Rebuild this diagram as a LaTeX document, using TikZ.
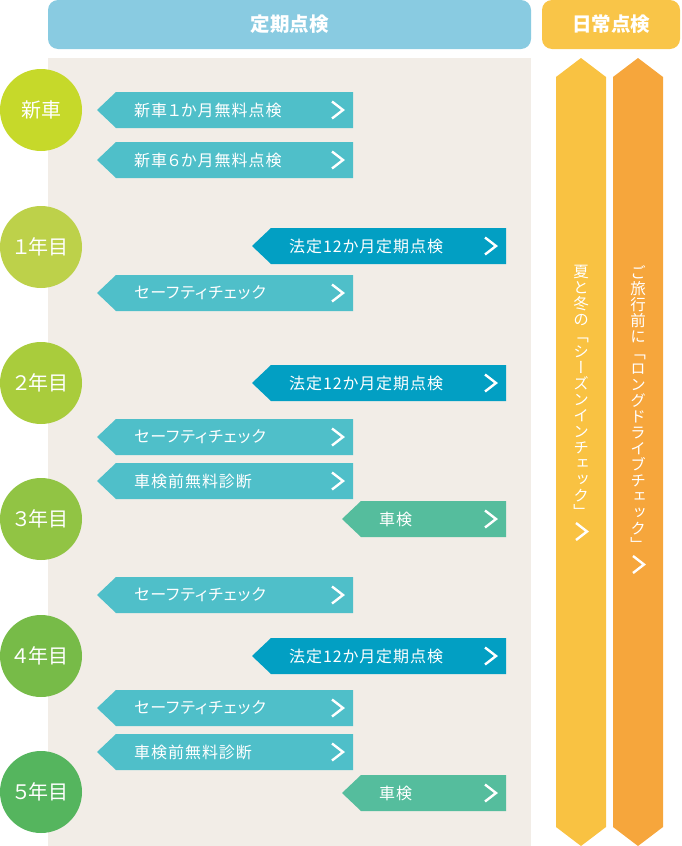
\documentclass[tikz,border=0pt]{standalone}
\usepackage{fontspec}
\setmainfont{Noto Sans CJK JP}
\newfontfamily\jpf[RawFeature=+palt]{Noto Sans CJK JP}
\newfontfamily\vjp[RawFeature=+vert]{Noto Sans CJK JP}
\definecolor{hblue}{HTML}{89CBE1}
\definecolor{hyellow}{HTML}{F9C548}
\definecolor{beige}{HTML}{F2EDE7}
\definecolor{teal}{HTML}{4FBFC9}
\definecolor{dblue}{HTML}{029FC3}
\definecolor{sgreen}{HTML}{55BD9D}
\definecolor{ayellow}{HTML}{F9C242}
\definecolor{aorange}{HTML}{F6A63C}
\definecolor{cA}{HTML}{C6D92A}
\definecolor{cB}{HTML}{BDD14A}
\definecolor{cC}{HTML}{A9CC3C}
\definecolor{cD}{HTML}{91C444}
\definecolor{cE}{HTML}{77BB48}
\definecolor{cF}{HTML}{55B55E}
\newcommand\bnr[6]{%
  \fill[#5] (#2,#4) -- (#2+19,#4-18) -- (#3,#4-18) -- (#3,#4+18) -- (#2+19,#4+18) -- cycle;
  \node[btext] (#1) at (#2+37,#4) {#6};
  \draw[chev] (#3-21,#4-8.5) -- (#3-10,#4) -- (#3-21,#4+8.5);
}
\begin{document}
\begin{tikzpicture}[x=1pt,y=-1pt,
  btext/.style={anchor=west,inner sep=0pt,text=white,font={\jpf\fontsize{16}{18}\selectfont\addfontfeature{LetterSpace=6}}},
  chev/.style={draw=white,line width=2.4pt,miter limit=10},
  yr/.style={circle,minimum size=82pt,inner sep=0pt,text=white,font={\jpf\fontsize{20}{24}\selectfont}},
  head/.style={rounded corners=10pt,inner sep=0pt,text=white,font={\bfseries\fontsize{19.5}{22}\selectfont}},
  vtext/.style={anchor=north,align=center,inner sep=0pt,text=white,font={\vjp\fontsize{15.5}{16}\selectfont}}]
\useasboundingbox (0,0) rectangle (681,846);
% headers
\fill[hblue,rounded corners=10pt] (48,0) rectangle (531,49);
\node[head] (teiki) at (289.5,24.5) {定期点検};
\fill[hyellow,rounded corners=10pt] (542,0) rectangle (680,49);
\node[head] (nichijo) at (611,24.5) {日常点検};
% background
\fill[beige] (48,58) rectangle (531,846);
% arrows right
\fill[ayellow] (556,77) -- (581,58) -- (606,77) -- (606,827) -- (581,846) -- (556,827) -- cycle;
\fill[aorange] (613,77) -- (638,58) -- (663,77) -- (663,827) -- (638,846) -- (613,827) -- cycle;
\node[vtext] (season) at (581,265) {夏\\と\\冬\\の\\「\\シ\\ー\\ズ\\ン\\イ\\ン\\チ\\ェ\\ッ\\ク\\」};
\node[vtext] (drive) at (638,265) {ご\\旅\\行\\前\\に\\「\\ロ\\ン\\グ\\ド\\ラ\\イ\\ブ\\チ\\ェ\\ッ\\ク\\」};
\draw[chev] (576,523) -- (587,531.5) -- (576,540);
\draw[chev] (633,556) -- (644,564.5) -- (633,573);
% circles
\node[yr,fill=cA] (y0) at (41,110) {新車};
\node[yr,fill=cB] (y1) at (41,247) {１年目};
\node[yr,fill=cC] (y2) at (41,383) {２年目};
\node[yr,fill=cD] (y3) at (41,519) {３年目};
\node[yr,fill=cE] (y4) at (41,656) {４年目};
\node[yr,fill=cF] (y5) at (41,792) {５年目};
% banners
\bnr{b1}{97}{353}{110}{teal}{新車１か月無料点検}
\bnr{b2}{97}{353}{160}{teal}{新車６か月無料点検}
\bnr{b3}{252}{506}{246}{dblue}{法定12か月定期点検}
\bnr{b4}{97}{353}{293}{teal}{セーフティチェック}
\bnr{b5}{252}{506}{383}{dblue}{法定12か月定期点検}
\bnr{b6}{97}{353}{437}{teal}{セーフティチェック}
\bnr{b7}{97}{353}{481}{teal}{車検前無料診断}
\bnr{b8}{342}{506}{519}{sgreen}{車検}
\bnr{b9}{97}{353}{595}{teal}{セーフティチェック}
\bnr{b10}{252}{506}{656}{dblue}{法定12か月定期点検}
\bnr{b11}{97}{353}{708}{teal}{セーフティチェック}
\bnr{b12}{97}{353}{752}{teal}{車検前無料診断}
\bnr{b13}{342}{506}{793}{sgreen}{車検}
\end{tikzpicture}
\end{document}
